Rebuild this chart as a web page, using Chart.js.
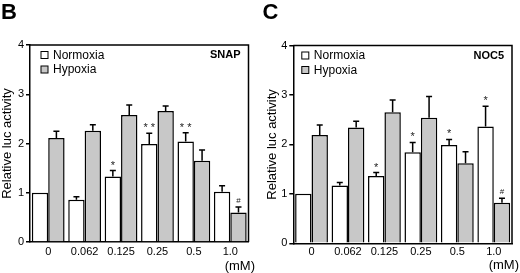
<!DOCTYPE html>
<html>
<head>
<meta charset="utf-8">
<script src="https://cdn.jsdelivr.net/npm/chart.js@4.4.1/dist/chart.umd.min.js"></script>
<style>
  html, body { margin: 0; padding: 0; background: #fff; }
  #wrap { position: relative; width: 520px; height: 273px; }
  canvas { position: absolute; top: 0; }
  #chartB { left: 0; }
  #chartC { left: 260px; }
</style>
</head>
<body>
<div id="wrap">
  <canvas id="chartB" width="260" height="273"></canvas>
  <canvas id="chartC" width="260" height="273"></canvas>
</div>
<script>
// 농도 (mM)
var doses = ['0', '0.062', '0.125', '0.25', '0.5', '1.0'];
var yTickValues = [0, 1, 2, 3, 4];
var seriesNames = ['Normoxia', 'Hypoxia'];

// B - SNAP
var snapNormoxia = [1.0, 0.86, 1.33, 1.99, 2.04, 1.02];
var snapNormoxiaErr = [0, 0.06, 0.12, 0.22, 0.18, 0.12];
var snapHypoxia = [2.11, 2.26, 2.58, 2.66, 1.65, 0.60];
var snapHypoxiaErr = [0.14, 0.12, 0.20, 0.10, 0.22, 0.11];
var snapNormoxiaMarks = ['', '', '*', '**', '**', ''];
var snapHypoxiaMarks = ['', '', '', '', '', '#'];

// C - NOC5
var nocNormoxia = [1.0, 1.17, 1.36, 1.84, 1.99, 2.36];
var nocNormoxiaErr = [0, 0.06, 0.07, 0.20, 0.11, 0.41];
var nocHypoxia = [2.19, 2.34, 2.65, 2.54, 1.62, 0.82];
var nocHypoxiaErr = [0.20, 0.13, 0.25, 0.43, 0.23, 0.09];
var nocNormoxiaMarks = ['', '', '*', '*', '*', '*'];
var nocHypoxiaMarks = ['', '', '', '', '', '#'];

var FONT = '"Liberation Sans", Arial, Helvetica, sans-serif';
var barColors = ['#ffffff', '#c8c8c8'];

function makePanel(canvasId, p) {
    var ctx = document.getElementById(canvasId).getContext('2d');

    // 에러바, 별표, 범례, 테두리 그리기
    var decor = {
        id: 'decor_' + canvasId,
        afterDatasetsDraw: function(chart) {
            var c = chart.ctx;
            var area = chart.chartArea;
            var yScale = chart.scales.y;
            c.save();

            // 에러바 (위쪽만)
            c.strokeStyle = '#000';
            c.lineWidth = 1.5;
            chart.data.datasets.forEach(function(ds, di) {
                var meta = chart.getDatasetMeta(di);
                meta.data.forEach(function(bar, i) {
                    var err = ds.errors[i];
                    var top = yScale.getPixelForValue(ds.data[i] + err);
                    if (err > 0) {
                        c.beginPath();
                        c.moveTo(bar.x, bar.y);
                        c.lineTo(bar.x, top);
                        c.moveTo(bar.x - 3, top);
                        c.lineTo(bar.x + 3, top);
                        c.stroke();
                    }
                    var mark = ds.marks[i];
                    if (mark) {
                        c.fillStyle = '#222';
                        c.textAlign = 'center';
                        c.textBaseline = 'alphabetic';
                        if (mark === '#') {
                            c.font = '8px ' + FONT;
                            c.fillText(mark, bar.x, top - 4);
                        } else {
                            c.font = '11px ' + FONT;
                            c.fillText(mark.split('').join(' '), bar.x, top - 2);
                        }
                    }
                });
            });

            // 위쪽/오른쪽 테두리
            c.lineWidth = 1.5;
            c.beginPath();
            c.moveTo(area.left, area.top);
            c.lineTo(area.right, area.top);
            c.lineTo(area.right, area.bottom);
            c.stroke();

            // 범례
            c.font = '12px ' + FONT;
            c.textAlign = 'left';
            c.textBaseline = 'middle';
            chart.data.datasets.forEach(function(ds, di) {
                var cy = area.top + 10 + di * 14.5;
                var bx = area.left + p.legendX;
                c.fillStyle = ds.backgroundColor;
                c.fillRect(bx, cy - 3.5, 7, 7);
                c.lineWidth = 1;
                c.strokeStyle = '#000';
                c.strokeRect(bx, cy - 3.5, 7, 7);
                c.fillStyle = '#000';
                c.fillText(ds.label, bx + 12, cy + 0.5);
            });

            // 약물 이름
            c.font = 'bold 11px ' + FONT;
            c.textAlign = 'right';
            c.fillText(p.drug, area.right - 8, area.top + 10);

            // 패널 문자
            c.font = 'bold 22px ' + FONT;
            c.textAlign = 'left';
            c.textBaseline = 'alphabetic';
            c.fillText(p.letter, p.letterX, 18.5);

            // 단위
            c.font = '13px ' + FONT;
            c.textAlign = 'right';
            c.fillText('(mM)', p.unitX, p.unitY);

            c.restore();
        }
    };

    return new Chart(ctx, {
        type: 'bar',
        data: {
            labels: doses,
            datasets: [{
                label: seriesNames[0],
                data: p.normoxia,
                errors: p.normoxiaErr,
                marks: p.normoxiaMarks,
                backgroundColor: barColors[0],
                borderColor: '#000',
                borderWidth: 1.5
            }, {
                label: seriesNames[1],
                data: p.hypoxia,
                errors: p.hypoxiaErr,
                marks: p.hypoxiaMarks,
                backgroundColor: barColors[1],
                borderColor: '#000',
                borderWidth: 1.5
            }]
        },
        options: {
            responsive: false,
            animation: false,
            devicePixelRatio: 1,
            categoryPercentage: 0.9,
            barPercentage: 1.0,
            layout: { padding: { left: 0, right: p.padRight, top: p.padTop, bottom: 0 } },
            plugins: {
                legend: { display: false },
                tooltip: { enabled: false }
            },
            scales: {
                x: {
                    grid: { display: false, drawTicks: false },
                    border: { display: true, color: '#000', width: 1.5 },
                    ticks: { color: '#000', font: { family: FONT, size: 11 }, padding: p.xPad, maxRotation: 0 },
                    afterFit: function(s) { s.height = p.xAxisH; }
                },
                y: {
                    min: 0,
                    max: 4,
                    afterBuildTicks: function(s) {
                        s.ticks = yTickValues.map(function(v) { return { value: v }; });
                    },
                    grid: { drawOnChartArea: false, drawTicks: true, tickLength: 4, color: '#000', lineWidth: 1.5 },
                    border: { display: true, color: '#000', width: 1.5 },
                    ticks: { color: '#000', font: { family: FONT, size: 11 }, padding: 2 },
                    title: {
                        display: true,
                        text: 'Relative luc activity',
                        color: '#000',
                        font: { family: FONT, size: 13 },
                        padding: { top: p.titlePad, bottom: 0 }
                    },
                    afterFit: function(s) { s.width = p.yAxisW; }
                }
            }
        },
        plugins: [decor]
    });
}

document.addEventListener('DOMContentLoaded', function() {
    makePanel('chartB', {
        letter: 'B', letterX: 1, drug: 'SNAP',
        normoxia: snapNormoxia, normoxiaErr: snapNormoxiaErr, normoxiaMarks: snapNormoxiaMarks,
        hypoxia: snapHypoxia, hypoxiaErr: snapHypoxiaErr, hypoxiaMarks: snapHypoxiaMarks,
        yAxisW: 30, padRight: 11.5, padTop: 45, xAxisH: 31, xPad: 3, titlePad: 0,
        legendX: 11, unitX: 255, unitY: 269.5
    });
    makePanel('chartC', {
        letter: 'C', letterX: 2.5, drug: 'NOC5',
        normoxia: nocNormoxia, normoxiaErr: nocNormoxiaErr, normoxiaMarks: nocNormoxiaMarks,
        hypoxia: nocHypoxia, hypoxiaErr: nocHypoxiaErr, hypoxiaMarks: nocHypoxiaMarks,
        yAxisW: 33.3, padRight: 8, padTop: 45.5, xAxisH: 29.7, xPad: 2, titlePad: 5,
        legendX: 8.5, unitX: 259, unitY: 268.5
    });
});
</script>
</body>
</html>
